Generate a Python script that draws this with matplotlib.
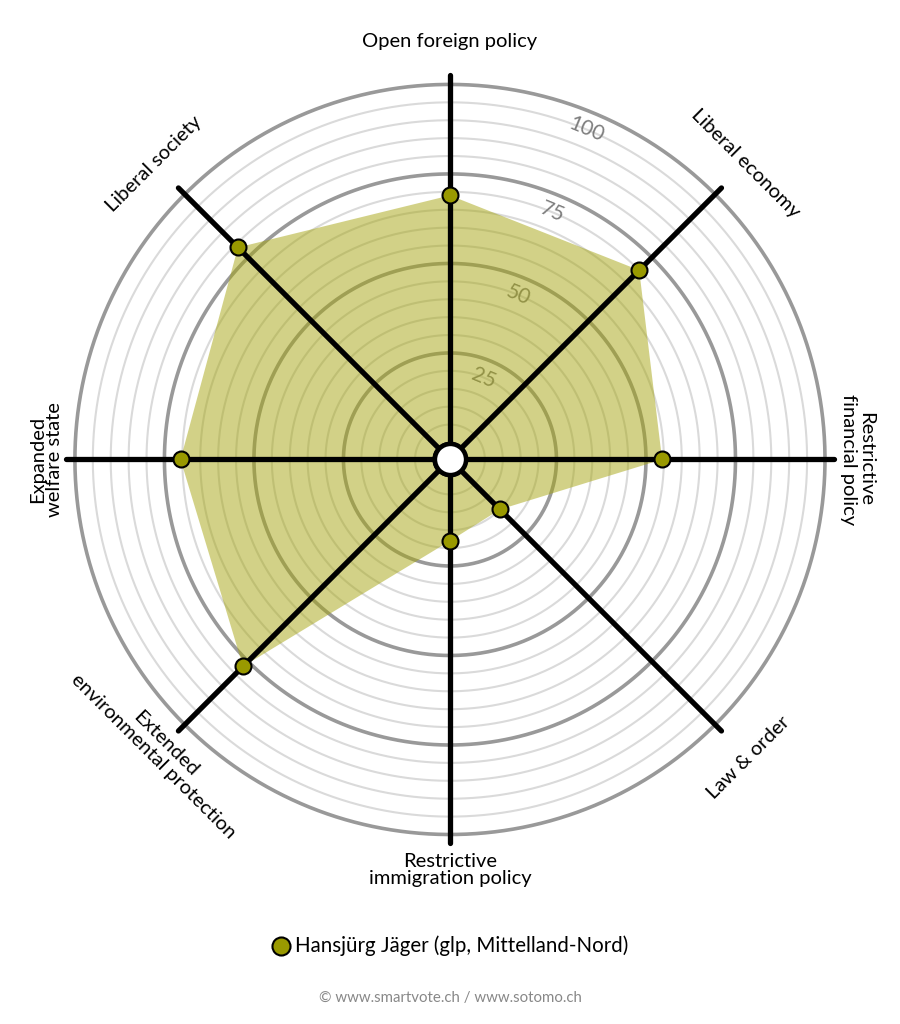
import numpy as np
import matplotlib
matplotlib.use("Agg")
import matplotlib.pyplot as plt

plt.rcParams['font.family'] = ['Lato', 'DejaVu Sans']

# Data (clockwise from top)
axes_labels = ["Open foreign policy", "Liberal economy", "Restrictive\nfinancial policy",
               "Law & order", "Restrictive\nimmigration policy",
               "Extended\nenvironmental protection", "Expanded\nwelfare state", "Liberal society"]
values = [69, 70, 54.5, 15, 18, 77, 70.5, 79]
candidate = "Hansjürg Jäger (glp, Mittelland-Nord)"
ring_labels = [25, 50, 75, 100]

# Label placement (radius in value units, rotation)
label_r = [112, 112, 109, 113, 110, 110, 108, 112]
label_rot = [0, -45, -90, 45, 0, -45, 90, 45]

olive = '#999900'
fill_col = '#a6a510'

fig = plt.figure(figsize=(9, 10.24), dpi=100)
ax = fig.add_axes([0.0733, 0.1763, 0.8533, 0.75], projection='polar')
ax.set_theta_zero_location('N')
ax.set_theta_direction(-1)
ax.set_ylim(0, 102.5)
ax.set_rorigin(-4.75)
ax.set_xticks([])
ax.set_yticks([])
ax.grid(False)
ax.spines['polar'].set_visible(False)
ax.patch.set_visible(False)

n = len(values)
theta = np.deg2rad(np.arange(n) * 360 / n)
circ = np.linspace(0, 2 * np.pi, 500)

# rings
for v in range(5, 101, 5):
    if v % 25 == 0:
        ax.plot(circ, np.full_like(circ, v), color='#999999', lw=2.6, zorder=1, clip_on=False)
    else:
        ax.plot(circ, np.full_like(circ, v), color='#dadada', lw=1.5, zorder=1, clip_on=False)

for v in ring_labels:
    ax.text(np.deg2rad(22.5), v - 5, str(v), rotation=-22.5, ha='center', va='center',
            fontsize=15, color='#7d7d7d', zorder=1.5)

# filled area
th_closed = np.append(theta, theta[0])
val_closed = np.append(values, values[0])
ax.fill(th_closed, val_closed, color=fill_col, alpha=0.5, lw=0, zorder=2)

# axis spokes
for t in theta:
    ax.plot([t, t], [-4.75, 102.5], color='black', lw=3.8, solid_capstyle='round', zorder=3, clip_on=False)

# points
ax.plot(theta, values, 'o', ms=11.5, mfc=olive, mec='black', mew=1.5, zorder=4, clip_on=False)

# center hole
ax.plot(0.5, 0.5, 'o', transform=ax.transAxes, ms=22.5, mfc='white', mec='black', mew=3.3,
        zorder=5, clip_on=False)

# axis labels
for t, lab, r, rot in zip(theta, axes_labels, label_r, label_rot):
    ax.text(t, r, lab, rotation=rot, ha='center', va='center', fontsize=14.5,
            color='black', linespacing=1.0, rotation_mode='anchor')

# legend
fig.lines.append(plt.Line2D([281 / 900], [1 - 946 / 1024], marker='o', ms=13, mfc=olive,
                            mec='black', mew=1.5, transform=fig.transFigure))
fig.text(295 / 900, 1 - 946 / 1024, candidate, ha='left', va='center', fontsize=14.8, color='black')
fig.text(0.5, 1 - 998 / 1024, "© www.smartvote.ch / www.sotomo.ch", ha='center', va='center',
         fontsize=10.8, color='#888888')

fig.savefig('out.png', dpi=100, facecolor='white')
